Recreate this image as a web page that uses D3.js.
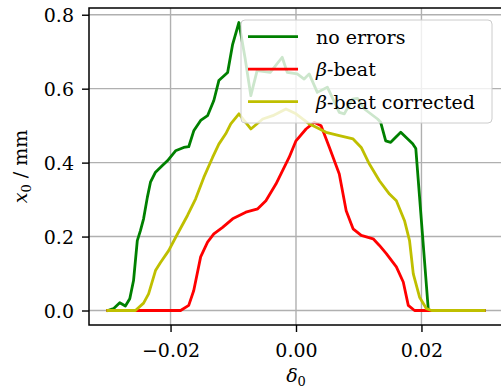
<!doctype html>
<meta charset="utf-8">
<style>
  body { margin: 0; background: #fff; }
</style>
<body>
<script src="https://d3js.org/d3.v7.min.js"></script>
<script>

// momentum offset delta_0 and amplitude x_0 [mm]
let noErrDelta = [-0.030, -0.0291, -0.0281, -0.0272, -0.0265, -0.0259, -0.0253, -0.0248, -0.0243, -0.0237,
  -0.0232, -0.0224, -0.0213, -0.0205, -0.0192, -0.0179, -0.0171, -0.0163, -0.0152, -0.0141,
  -0.0131, -0.0123, -0.0109, -0.0101, -0.0091, -0.0081, -0.0072, -0.0062, -0.0041, -0.0022,
  -0.0014, 0.0002, 0.0013, 0.0021, 0.0034, 0.0050, 0.0069, 0.0077, 0.0090, 0.0098,
  0.0109, 0.0130, 0.0135, 0.0143, 0.0151, 0.0167, 0.0186, 0.0191, 0.0211, 0.030];
let noErrX = [0, 0.005, 0.021, 0.012, 0.032, 0.081, 0.189, 0.216, 0.248, 0.306,
  0.347, 0.374, 0.392, 0.405, 0.432, 0.441, 0.443, 0.486, 0.514, 0.527,
  0.568, 0.622, 0.644, 0.720, 0.779, 0.681, 0.581, 0.649, 0.644, 0.685,
  0.644, 0.640, 0.626, 0.640, 0.590, 0.604, 0.536, 0.532, 0.572, 0.574,
  0.545, 0.518, 0.509, 0.459, 0.455, 0.482, 0.451, 0.438, 0, 0];

let betaDelta = [-0.030, -0.0184, -0.0171, -0.0163, -0.0152, -0.0141, -0.0131, -0.0117, -0.0101, -0.0080,
  -0.0061, -0.0048, -0.0032, -0.0011, 0.0000, 0.0016, 0.0029, 0.0040, 0.0053, 0.0069,
  0.0072, 0.0080, 0.0091, 0.0104, 0.0123, 0.0133, 0.0144, 0.0160, 0.0171, 0.0179, 0.0189, 0.030];
let betaX = [0, 0, 0.014, 0.054, 0.145, 0.185, 0.207, 0.225, 0.248, 0.266,
  0.275, 0.297, 0.342, 0.414, 0.459, 0.491, 0.509, 0.500, 0.442, 0.369,
  0.342, 0.270, 0.221, 0.203, 0.194, 0.176, 0.154, 0.118, 0.077, 0.014, 0, 0];

let corrDelta = [-0.030, -0.0256, -0.0243, -0.0235, -0.0224, -0.0216, -0.0203, -0.0189, -0.0173, -0.0160,
  -0.0147, -0.0133, -0.0123, -0.0112, -0.0104, -0.0091, -0.0072, -0.0053, -0.0037, -0.0016,
  0.0000, 0.0021, 0.0048, 0.0069, 0.0091, 0.0104, 0.0117, 0.0133, 0.0149, 0.0160,
  0.0173, 0.0181, 0.0187, 0.0197, 0.0208, 0.0216, 0.030];
let corrX = [0, 0, 0.020, 0.045, 0.108, 0.130, 0.162, 0.207, 0.257, 0.302,
  0.360, 0.414, 0.450, 0.478, 0.505, 0.532, 0.491, 0.518, 0.527, 0.545,
  0.532, 0.505, 0.482, 0.473, 0.464, 0.441, 0.396, 0.351, 0.315, 0.297,
  0.243, 0.189, 0.099, 0.036, 0.005, 0, 0];

let seriesNames = ["no errors", "β-beat", "β-beat corrected"];
let seriesColors = ["#008000", "#ff0000", "#bfbf00"];

let xTicks = [-0.02, 0.00, 0.02];
let xTickLabels = ["\u22120.02", "0.00", "0.02"];
let yTicks = [0.0, 0.2, 0.4, 0.6, 0.8];
let yTickLabels = ["0.0", "0.2", "0.4", "0.6", "0.8"];

let width = 501, height = 389;
let plot = {left: 89, right: 503, top: 8, bottom: 325};
let font = "'DejaVu Serif', 'Noto Serif', 'Liberation Serif', Tinos, 'Times New Roman', FreeSerif, serif";

let x = d3.scaleLinear().domain([-0.033, 0.033]).range([plot.left, plot.right]);
let y = d3.scaleLinear().domain([-0.0392, 0.8182]).range([plot.bottom, plot.top]);

let svg = d3.select("body").append("svg")
    .attr("width", width)
    .attr("height", height);

// grid
let grid = svg.append("g").attr("stroke", "#b0b0b0").attr("stroke-width", 1.4);
grid.selectAll(".gx").data(xTicks).enter().append("line")
    .attr("x1", d => x(d)).attr("x2", d => x(d))
    .attr("y1", plot.top).attr("y2", plot.bottom);
grid.selectAll(".gy").data(yTicks).enter().append("line")
    .attr("x1", plot.left).attr("x2", plot.right)
    .attr("y1", d => y(d)).attr("y2", d => y(d));

// curves
let series = [
  noErrDelta.map((d, i) => [d, noErrX[i]]),
  betaDelta.map((d, i) => [d, betaX[i]]),
  corrDelta.map((d, i) => [d, corrX[i]])
];
let line = d3.line().x(d => x(d[0])).y(d => y(d[1]));
svg.append("g").selectAll("path").data(series).enter().append("path")
    .attr("d", line)
    .attr("fill", "none")
    .attr("stroke", (d, i) => seriesColors[i])
    .attr("stroke-width", 2.8)
    .attr("stroke-linejoin", "round")
    .attr("stroke-linecap", "square");

// spines
svg.append("rect")
    .attr("x", plot.left).attr("y", plot.top)
    .attr("width", plot.right - plot.left).attr("height", plot.bottom - plot.top)
    .attr("fill", "none").attr("stroke", "#000").attr("stroke-width", 1.5);

// axes
let xAxis = d3.axisBottom(x).tickValues(xTicks).tickSize(7).tickPadding(6)
    .tickFormat((d, i) => xTickLabels[i]);
let yAxis = d3.axisLeft(y).tickValues(yTicks).tickSize(7).tickPadding(8)
    .tickFormat((d, i) => yTickLabels[i]);

let gx = svg.append("g").attr("transform", "translate(0," + plot.bottom + ")").call(xAxis);
let gy = svg.append("g").attr("transform", "translate(" + plot.left + ",0)").call(yAxis);
[gx, gy].forEach(g => {
  g.attr("font-family", null).attr("font-size", null);
  g.select(".domain").remove();
  g.selectAll(".tick line").attr("stroke", "#000").attr("stroke-width", 1.4);
  g.selectAll("text").attr("fill", "#000")
      .style("font-family", font).style("font-size", "19px");
});
gx.selectAll("text").attr("dy", null).attr("y", 32);
gy.selectAll("text").attr("dy", "0.36em");

// axis labels
let xl = svg.append("text")
    .attr("x", x(0)).attr("y", 382)
    .attr("text-anchor", "middle")
    .style("font-family", font)
    .style("font-size", "19px");
xl.append("tspan").attr("font-style", "italic").text("δ");
xl.append("tspan").attr("dy", 4).style("font-size", "13px").text("0");

let yl = svg.append("text")
    .attr("transform", "translate(27," + (plot.top + plot.bottom) / 2 + ") rotate(-90)")
    .attr("text-anchor", "middle")
    .style("font-family", font)
    .style("font-size", "19px");
yl.append("tspan").attr("font-style", "italic").text("x");
yl.append("tspan").attr("dy", 4).style("font-size", "13px").text("0");
yl.append("tspan").attr("dy", -4).text(" / mm");

// legend
let legend = svg.append("g");
legend.append("rect")
    .attr("x", 241).attr("y", 20)
    .attr("width", 251).attr("height", 103)
    .attr("rx", 4)
    .attr("fill", "#fff").attr("fill-opacity", 0.8)
    .attr("stroke", "#cccccc").attr("stroke-width", 1);
let ly = d3.scaleLinear().domain([0, 2]).range([36.7, 101.7]);
let items = legend.selectAll(".item").data(seriesNames).enter().append("g");
items.append("line")
    .attr("x1", 248).attr("x2", 298)
    .attr("y1", (d, i) => ly(i)).attr("y2", (d, i) => ly(i))
    .attr("stroke", (d, i) => seriesColors[i]).attr("stroke-width", 2.8);
items.append("text")
    .attr("x", 316).attr("y", (d, i) => ly(i) + 7)
    .style("font-family", font)
    .style("font-size", "19px")
    .each(function(d) {
      let t = d3.select(this);
      if (d.startsWith("β")) {
        t.append("tspan").attr("font-style", "italic").text("β");
        t.append("tspan").text(d.slice(1));
      } else {
        t.text(d);
      }
    });

</script>
</body>
